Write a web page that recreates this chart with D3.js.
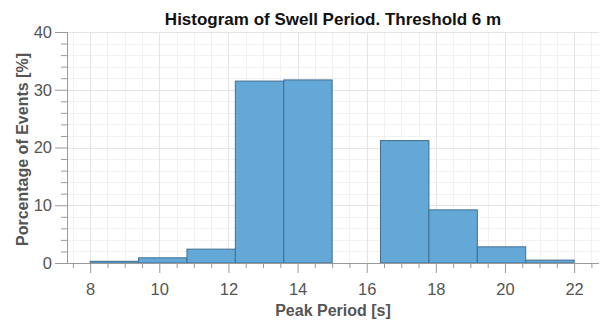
<!DOCTYPE html>
<html>
<head>
<meta charset="utf-8">
<script src="https://cdn.jsdelivr.net/npm/d3@7"></script>
<style>
  html, body { margin: 0; padding: 0; background: #fff; }
  svg { display: block; font-family: "Liberation Sans", Arial, Helvetica, sans-serif; }
</style>
</head>
<body>
<svg id="chart" width="601" height="320"></svg>
<script>
// Histogram bins: left edges / right edges of each peak-period bin [s]
const binStart = [8.0, 9.4, 10.8, 12.2, 13.6, 15.0, 16.4, 17.8, 19.2, 20.6];
const binEnd   = [9.4, 10.8, 12.2, 13.6, 15.0, 16.4, 17.8, 19.2, 20.6, 22.0];
// Percentage of events in each bin
const percent  = [0.3, 0.9, 2.4, 31.5, 31.7, 0.0, 21.2, 9.2, 2.8, 0.5];
// Tick values
const xTicks = [8, 10, 12, 14, 16, 18, 20, 22];
const yTicks = [0, 10, 20, 30, 40];

const svg = d3.select("#chart");
const margin = { left: 67, right: 2, top: 32, bottom: 57 };
const W = 601, H = 320;

const x = d3.scaleLinear().domain([7.33, 22.72]).range([margin.left, W - margin.right]);
const y = d3.scaleLinear().domain([0, 40]).range([H - margin.bottom, margin.top]);

const x0 = margin.left, x1 = W - margin.right, yTop = margin.top, yBot = H - margin.bottom;

// Grid: minor then major
const g = svg.append("g");
const xMinor = d3.range(7.5, 22.75, 0.5).filter(v => v % 2 !== 0);
const yMinor = d3.range(2, 40, 2).filter(v => v % 10 !== 0);
g.selectAll(".xmin").data(xMinor).join("line")
  .attr("x1", d => Math.round(x(d)) + 0.5).attr("x2", d => Math.round(x(d)) + 0.5)
  .attr("y1", yTop).attr("y2", yBot).attr("stroke", "#f1f1f1");
g.selectAll(".ymin").data(yMinor).join("line")
  .attr("y1", d => Math.round(y(d)) + 0.5).attr("y2", d => Math.round(y(d)) + 0.5)
  .attr("x1", x0).attr("x2", x1).attr("stroke", "#f1f1f1");
g.selectAll(".xmaj").data(xTicks).join("line")
  .attr("x1", d => Math.round(x(d)) + 0.5).attr("x2", d => Math.round(x(d)) + 0.5)
  .attr("y1", yTop).attr("y2", yBot).attr("stroke", "#e4e4e4");
g.selectAll(".ymaj").data(yTicks.filter(v => v > 0)).join("line")
  .attr("y1", d => Math.round(y(d)) + 0.5).attr("y2", d => Math.round(y(d)) + 0.5)
  .attr("x1", x0).attr("x2", x1).attr("stroke", "#e4e4e4");

// Bars
const bins = binStart.map((s, i) => ({ s, e: binEnd[i], v: percent[i] }));
svg.append("g").selectAll("rect").data(bins.filter(d => d.v > 0)).join("rect")
  .attr("x", d => x(d.s))
  .attr("width", d => x(d.e) - x(d.s))
  .attr("y", d => y(d.v))
  .attr("height", d => y(0) - y(d.v))
  .attr("fill", "#63a8d7")
  .attr("stroke", "#416f90")
  .attr("stroke-width", 1);

// Axes
const axisColor = "#9a9a9a";
const textColor = "#555";

const xAxis = svg.append("g").attr("transform", `translate(0,${yBot})`);
xAxis.call(d3.axisBottom(x).tickValues(xTicks).tickSize(10).tickPadding(10).tickFormat(d3.format("d")));
const xMinorTicks = svg.append("g").attr("transform", `translate(0,${yBot})`);
xMinorTicks.call(d3.axisBottom(x).tickValues(xMinor).tickSize(5).tickFormat(""));

const yAxis = svg.append("g").attr("transform", `translate(${x0},0)`);
yAxis.call(d3.axisLeft(y).tickValues(yTicks).tickSize(12).tickPadding(3).tickFormat(d3.format("d")));
const yMinorTicks = svg.append("g").attr("transform", `translate(${x0},0)`);
yMinorTicks.call(d3.axisLeft(y).tickValues(yMinor).tickSize(6).tickFormat(""));

[xAxis, xMinorTicks, yAxis, yMinorTicks].forEach(a => {
  a.select(".domain").remove();
  a.selectAll("line").attr("stroke", axisColor);
  a.selectAll("text").attr("fill", textColor).style("font-size", "16.5px")
   .style("font-family", '"Liberation Sans", Arial, sans-serif');
});

// Axis lines
svg.append("line").attr("x1", x0 - 12).attr("x2", x1).attr("y1", yBot + 0.5).attr("y2", yBot + 0.5)
  .attr("stroke", axisColor);
svg.append("line").attr("x1", x0 + 0.5).attr("x2", x0 + 0.5).attr("y1", yTop).attr("y2", yBot + 1)
  .attr("stroke", axisColor);

// Title and labels
svg.append("text").attr("x", (x0 + x1) / 2).attr("y", 25).attr("text-anchor", "middle")
  .style("font-size", "17px").style("font-weight", "bold").attr("fill", "#111")
  .text("Histogram of Swell Period. Threshold 6 m");

svg.append("text").attr("x", (x0 + x1) / 2).attr("y", 316).attr("text-anchor", "middle")
  .style("font-size", "16px").style("font-weight", "bold").attr("fill", textColor)
  .text("Peak Period [s]");

svg.append("text").attr("transform", `translate(28,${(yTop + yBot) / 2 + 2}) rotate(-90)`)
  .attr("text-anchor", "middle")
  .style("font-size", "16px").style("font-weight", "bold").attr("fill", textColor)
  .text("Porcentage of Events [%]");
</script>
</body>
</html>
